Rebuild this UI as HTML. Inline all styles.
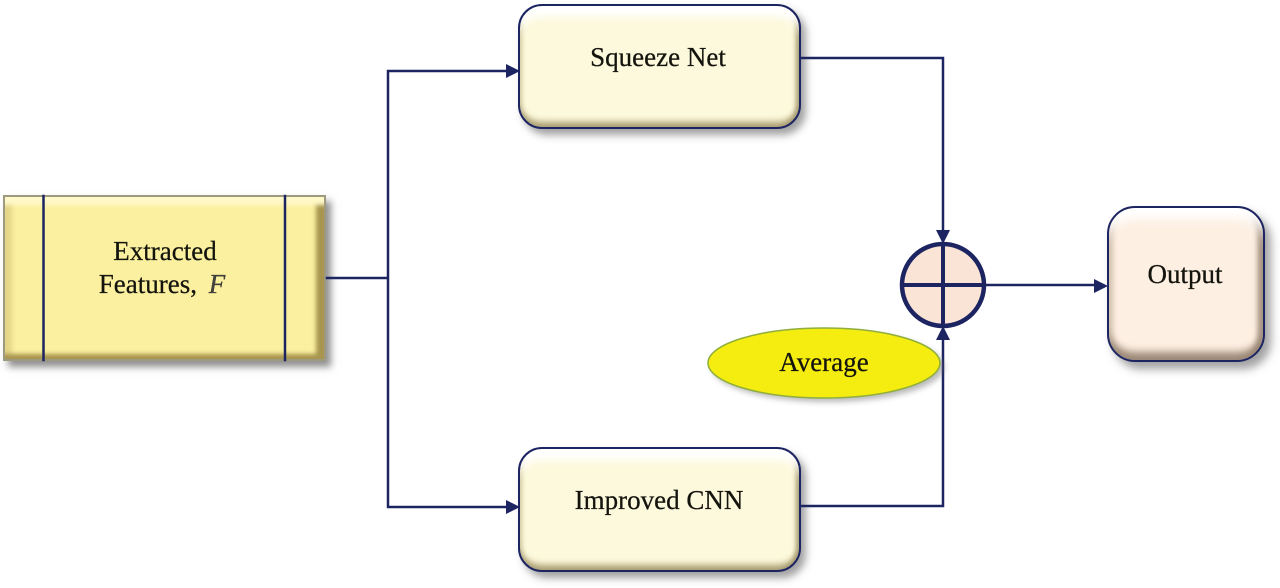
<!DOCTYPE html>
<html><head><meta charset="utf-8">
<style>
html,body{margin:0;padding:0;background:#fff}
body{width:1280px;height:588px;position:relative;overflow:hidden;font-family:"Liberation Serif",serif;color:#111}
.b{position:absolute;box-sizing:border-box}
.t{position:absolute;font-size:27px;line-height:30px;white-space:nowrap;transform:translateX(-50%);color:#14140e;-webkit-text-stroke:.25px #14140e;filter:blur(.35px)}
.r{background:#fdf9dc;border:2.5px solid #1c2462;border-radius:24px;
box-shadow:5px 6px 8px rgba(70,70,70,.5),inset 0 17px 9px -6px #fff,inset 0 -8px 7px -3px #a89c70,inset -6px 0 5px -3px #a89c70,inset 6px 0 5px -4px #d8cfa5}
.o{background:#fdefe2;border:2.5px solid #1c2462;border-radius:28px;
box-shadow:6px 7px 9px rgba(70,70,70,.5),inset 0 17px 10px -6px #fff,inset 0 -11px 8px -3px #9c8876,inset -8px 0 6px -3px #9c8876,inset 8px 0 6px -4px #d8c7b5}
.f{background:#fbf09f;border:2px solid #9d9a80;
box-shadow:5px 6px 7px rgba(70,70,70,.6),inset 0 12px 4px -4px #fff8c8,inset 0 -9px 4px -4px #a8954f,inset -12px 0 4px -4px #a8954f,inset 11px 0 4px -4px #e6d68a}
svg{position:absolute;left:0;top:0}
</style></head><body>
<div class="b f" style="left:3px;top:195px;width:323px;height:166px"></div>
<div class="b r" style="left:518px;top:4px;width:283px;height:125px"></div>
<div class="b r" style="left:518px;top:447px;width:283px;height:125px"></div>
<div class="b o" style="left:1107px;top:206px;width:158px;height:156px"></div>
<svg width="1280" height="588" viewBox="0 0 1280 588">
<defs><filter id="s" x="-20%" y="-20%" width="150%" height="150%"><feGaussianBlur stdDeviation="3"/></filter></defs>
<g fill="none" stroke="#1c2462" stroke-width="2.5" stroke-linejoin="miter" stroke-linecap="square">
<path d="M43.500 196V360M285 196V360"/>
<path d="M327 278H388M388 71V507M388 71H508M388 507H508"/>
<path d="M802 58H943V232M802 506H943V338M986 285H1096"/>
</g>
<g fill="#1c2462">
<path d="M520 71L506 64V78Z"/><path d="M520 507L506 500V514Z"/>
<path d="M943 244L936 230H950Z"/><path d="M943 326L936 340H950Z"/>
<path d="M1108 286L1094 279V293Z"/>
</g>
<ellipse cx="828" cy="367" rx="116" ry="35" fill="#666" opacity=".45" filter="url(#s)"/>
<ellipse cx="824" cy="363" rx="116" ry="35" fill="#f5ec10" stroke="#8fae3c" stroke-width="1.5"/>
<circle cx="943" cy="285" r="41" fill="#fae4d6" stroke="#1c2462" stroke-width="4.500"/>
<path d="M943 244V326M902 285H984" stroke="#1c2462" stroke-width="4" fill="none"/>
</svg>
<div class="t" style="left:165px;top:236px">Extracted</div>
<div class="t" style="left:162px;top:269px">Features, <i style="color:#444;margin-left:5px">F</i></div>
<div class="t" style="left:658px;top:42px">Squeeze Net</div>
<div class="t" style="left:659px;top:485px">Improved CNN</div>
<div class="t" style="left:824px;top:347px">Average</div>
<div class="t" style="left:1185px;top:259px">Output</div>
</body></html>
